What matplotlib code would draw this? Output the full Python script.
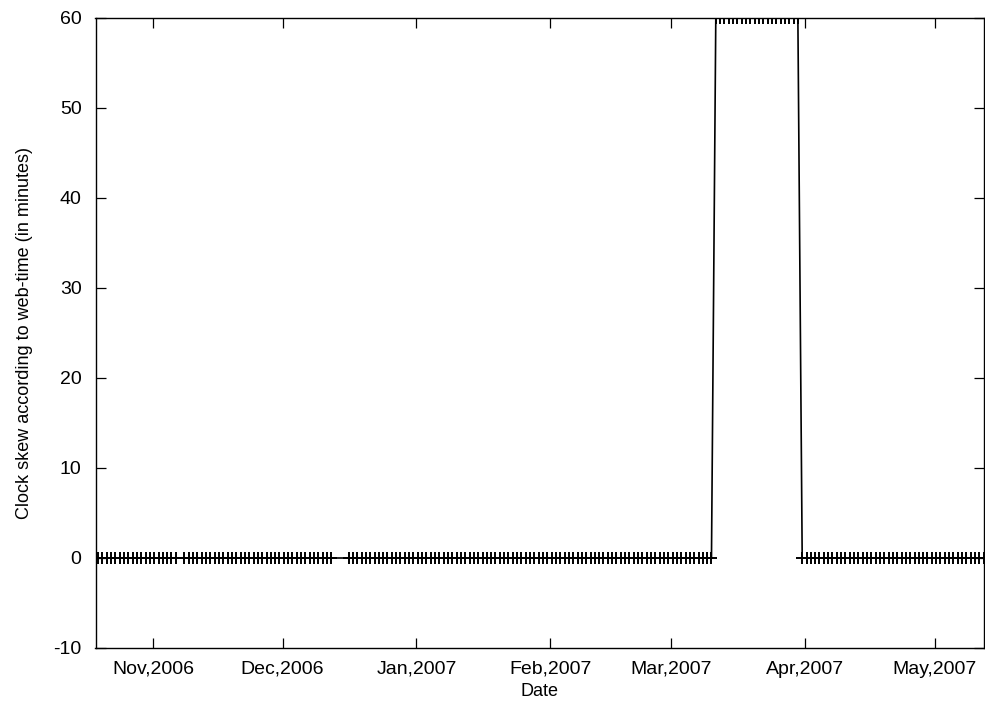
import matplotlib
matplotlib.use("Agg")
import matplotlib.pyplot as plt
import matplotlib.dates as mdates
import pandas as pd

# Daily clock-skew samples, stored as runs of consecutive days sharing one value
run_starts = ["2006-10-19", "2006-11-08", "2006-12-16", "2007-03-11", "2007-03-31"]
run_ends = ["2006-11-06", "2006-12-12", "2007-03-10", "2007-03-30", "2007-05-12"]
run_values = [0, 0, 0, 60, 0]

y_ticks = [-10, 0, 10, 20, 30, 40, 50, 60]
x_tick_dates = ["2006-11-01", "2006-12-01", "2007-01-01", "2007-02-01",
                "2007-03-01", "2007-04-01", "2007-05-01"]

dates = []
values = []
for s, e, v in zip(run_starts, run_ends, run_values):
    for d in pd.date_range(s, e, freq="D"):
        dates.append(d + pd.Timedelta(hours=7))
        values.append(v)

plt.rcParams["font.family"] = ["Liberation Sans", "DejaVu Sans"]
plt.rcParams["axes.unicode_minus"] = False

fig = plt.figure(figsize=(9.85, 7.10), dpi=100)
ax = fig.add_axes([95.5 / 985, 62 / 710, (984 - 95.5) / 985, (648 - 18) / 710])

ax.plot(dates, values, color="black", lw=1.2, marker="+", ms=8, mew=1.4,
        clip_on=True)

ax.set_xlim(pd.Timestamp("2006-10-18 17:00"), pd.Timestamp("2007-05-12 09:00"))
ax.set_ylim(-10, 60)
ax.set_yticks(y_ticks)
ax.set_xticks([pd.Timestamp(d) for d in x_tick_dates])
ax.xaxis.set_major_formatter(mdates.DateFormatter("%b,%Y"))

ax.tick_params(direction="in", length=7, width=0.9, top=True, right=True,
               labelsize=14, pad=10, colors="black")
ax.tick_params(axis="x", pad=9)
for sp in ax.spines.values():
    sp.set_linewidth(1.0)

ax.set_xlabel("Date", fontsize=13, labelpad=4)
ax.set_ylabel("Clock skew according to web-time (in minutes)", fontsize=13,
              labelpad=15)

fig.savefig("out.png", dpi=100)
